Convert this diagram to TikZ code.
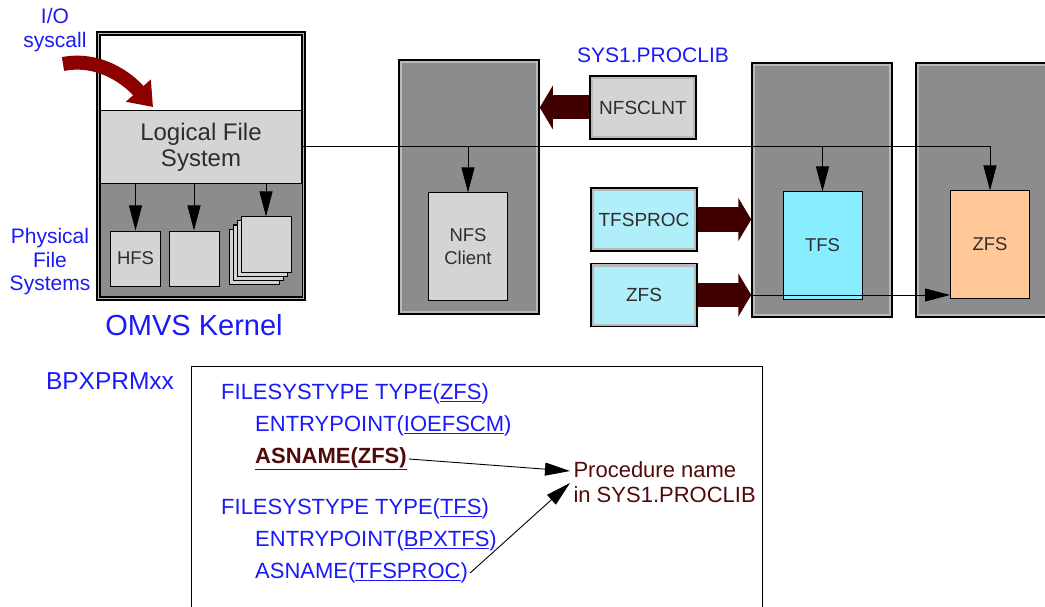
\documentclass[tikz,border=0pt]{standalone}
\usepackage{fontspec}
\setmainfont{Liberation Sans}
\usetikzlibrary{arrows.meta}

\definecolor{hostgray}{RGB}{140,140,140}
\definecolor{hostlight}{RGB}{185,185,185}
\definecolor{boxgray}{RGB}{212,212,212}
\definecolor{textgray}{RGB}{45,45,45}
\definecolor{proccyan}{RGB}{176,238,250}
\definecolor{tfscyan}{RGB}{136,238,255}
\definecolor{zfsorange}{RGB}{255,200,150}
\definecolor{blockdark}{RGB}{64,0,0}
\definecolor{calldark}{RGB}{140,0,0}
\definecolor{labelblue}{RGB}{25,25,250}
\definecolor{procmaroon}{RGB}{80,10,10}

\tikzset{
  rim/.style={path picture={\draw[line width=6pt,hostlight]
      (path picture bounding box.north west) rectangle (path picture bounding box.south east);}},
  hostbox/.style={rectangle,draw,line width=1.5pt,fill=hostgray,rim,minimum width=140pt,minimum height=254pt},
  procbox/.style={rectangle,draw,line width=1.5pt,rim,minimum width=106pt,minimum height=63pt,text=textgray,font=\fontsize{19}{22}\selectfont},
  fsbox/.style={rectangle,draw,line width=1pt,minimum width=79pt,minimum height=107pt,text=textgray,align=center,font=\fontsize{18.5}{23}\selectfont},
  pfsbox/.style={rectangle,draw,line width=1pt,fill=boxgray,minimum width=50pt,minimum height=55pt,text=textgray,font=\fontsize{18.5}{22}\selectfont},
  parmline/.style={anchor=west,inner sep=2pt,text=labelblue,font=\fontsize{22}{24}\selectfont},
  link/.style={line width=0.9pt,-{Triangle[length=25pt,width=13pt]}},
  blockarrow/.style={draw=blockdark,line width=24pt,-{Triangle[length=13pt,width=43pt]}},
  callarrow/.style={draw=calldark,line width=14pt,-{Triangle[length=22pt,width=32pt]}}
}

\begin{document}
\begin{tikzpicture}[x=1pt,y=-1pt,font=\fontsize{21}{24}\selectfont]
  \useasboundingbox (0,0) rectangle (1045,607);

  \node (Kernel) [rectangle,draw,line width=1.6pt,double=hostlight,double distance=1.4pt,fill=white,minimum width=205pt,minimum height=265pt] at (201,166) {};
  \node (LFS) [rectangle,draw,line width=0.7pt,fill=boxgray,anchor=north,minimum width=201pt,minimum height=73pt,align=center,text=textgray,font=\fontsize{24}{26}\selectfont] at (201,110) {Logical File\\System};
  \node (PFS) [rectangle,fill=hostgray,anchor=north,minimum width=201pt,minimum height=112pt] at (LFS.south) {};
  \node (HFS) [pfsbox] at (135.5,258.5) {HFS};
  \node (PFSTwo) [pfsbox] at (194,258.5) {};
  \foreach \k in {3,2,1}
    \node (Sheet\k) [pfsbox] at (266-4*\k,244.5+4*\k) {};
  \node (PFSStack) [pfsbox] at (266,244.5) {};
  \draw[link] (HFS.north |- LFS.south) -- (HFS.north);
  \draw[link] (PFSTwo.north |- LFS.south) -- (PFSTwo.north);
  \draw[link] (PFSStack.north |- LFS.south) -- (PFSStack.north);

  \node (IOCall) [text=labelblue,align=center] at (55,30) {I/O\\syscall};
  \coordinate (CallFrom) at (63,64);
  \coordinate (CallTo) at (153,107);
  \draw[callarrow] (CallFrom) .. controls (100,57) and (128,79) .. (CallTo);
  \node (PhysLabel) [text=labelblue,align=center,font=\fontsize{21}{23.5}\selectfont] at (50,262) {Physical\\File\\Systems};
  \node (KernelLabel) [text=labelblue,font=\fontsize{29}{32}\selectfont] at (194,325) {OMVS Kernel};

  \node (NFSHost) [hostbox] at (469,187) {};
  \node (NFSClient) [fsbox,fill=boxgray] at (468,246.5) {NFS\\Client};
  \node (ProclibLabel) [text=labelblue] at (653,55) {SYS1.PROCLIB};
  \node (NFSCLNT) [procbox,fill=boxgray] at (643,107.5) {NFSCLNT};
  \node (TFSPROC) [procbox,fill=proccyan] at (644,219.5) {TFSPROC};
  \node (ZFSPROC) [procbox,fill=proccyan] at (644,295) {ZFS};
  \node (TFSHost) [hostbox] at (822,190) {};
  \node (TFSBox) [fsbox,fill=tfscyan] at (822.5,245.5) {TFS};
  \node (ZFSHost) [hostbox] at (986,190) {};
  \node (ZFSBox) [fsbox,fill=zfsorange] at (990,244.5) {ZFS};

  \draw[blockarrow] (NFSCLNT.west) -- (NFSCLNT.west -| NFSHost.east);
  \draw[blockarrow] (TFSPROC.east) -- (TFSPROC.east -| TFSHost.west);
  \draw[blockarrow] (ZFSPROC.east) -- (ZFSPROC.east -| TFSHost.west);
  \draw[link] (ZFSPROC.east -| TFSHost.west) -- (ZFSBox.west |- ZFSPROC.east);
  \draw[link] (LFS.east) -| (ZFSBox.north);
  \draw[link] (LFS.east -| NFSClient.north) -- (NFSClient.north);
  \draw[link] (LFS.east -| TFSBox.north) -- (TFSBox.north);

  \node (ParmLabel) [text=labelblue,font=\fontsize{24.5}{27}\selectfont] at (110,381) {BPXPRMxx};
  \node (Parmlib) [rectangle,draw,line width=0.8pt,minimum width=571pt,minimum height=250pt] at (476.5,491) {};
  \node (TypeZFS) [parmline] at (219,394) {FILESYSTYPE TYPE(\underline{ZFS})};
  \node (EntryZFS) [parmline] at (253,426) {ENTRYPOINT(\underline{IOEFSCM})};
  \node (AsnameZFS) [parmline,text=procmaroon,font=\fontsize{22}{24}\selectfont\bfseries] at (253,459) {\underline{ASNAME(ZFS)}};
  \node (TypeTFS) [parmline] at (219,509) {FILESYSTYPE TYPE(\underline{TFS})};
  \node (EntryTFS) [parmline] at (253,541) {ENTRYPOINT(\underline{BPXTFS})};
  \node (AsnameTFS) [parmline] at (253,573) {ASNAME(\underline{TFSPROC})};
  \node (ProcName) [anchor=west,align=left,text=procmaroon,font=\fontsize{22}{25}\selectfont] at (570,482) {Procedure name\\in SYS1.PROCLIB};
  \draw[link] (AsnameZFS.east) -- ([yshift=11pt]ProcName.west);
  \draw[link] (AsnameTFS.east) -- ([yshift=-1pt]ProcName.west);
\end{tikzpicture}
\end{document}
